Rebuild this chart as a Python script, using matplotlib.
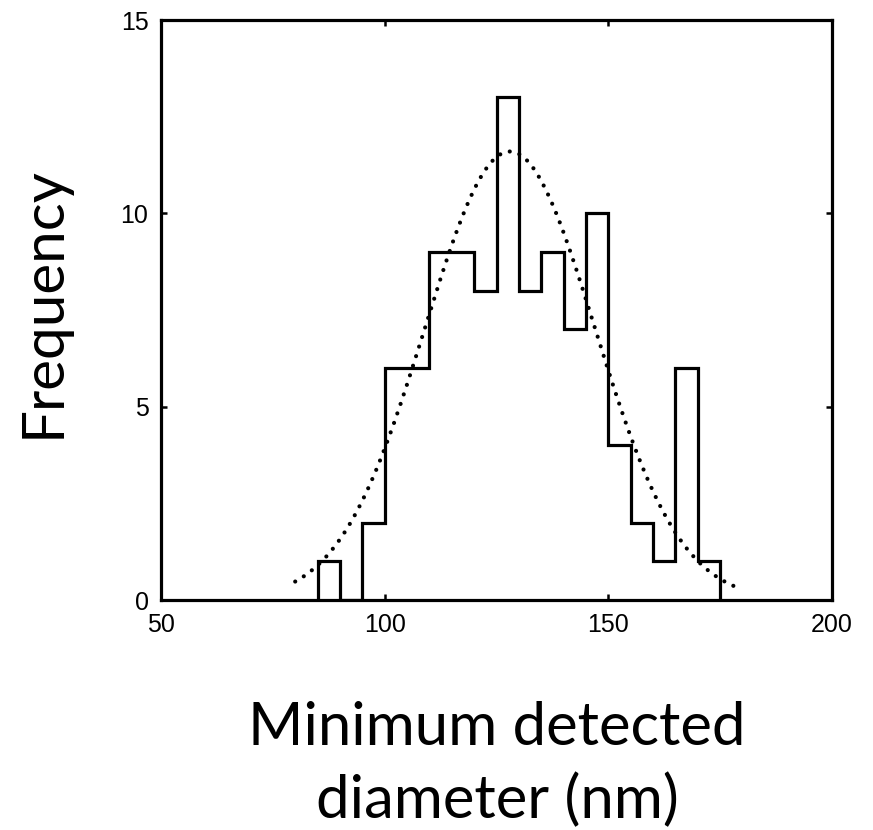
import numpy as np
import matplotlib
matplotlib.use("Agg")
import matplotlib.pyplot as plt

# Histogram data (bin edges in nm, counts)
bin_edges = [85, 90, 95, 100, 105, 110, 115, 120, 125, 130, 135, 140, 145,
             150, 155, 160, 165, 170, 175]
counts = [1, 0, 2, 6, 6, 9, 9, 8, 13, 8, 9, 7, 10, 4, 2, 1, 6, 1]

# Fitted normal curve parameters
fit_mu = 128.0
fit_sigma = 19.0
fit_amp = 11.6
fit_range = (80, 180)

x_ticks = [50, 100, 150, 200]
y_ticks = [0, 5, 10, 15]

fig = plt.figure(figsize=(8.73, 8.30), dpi=100)
ax = fig.add_axes([161/873, 1-600/830, (832-161)/873, (600-20)/830])

ax.stairs(counts, bin_edges, baseline=0, fill=False, color='black', linewidth=2.3)

xf = np.linspace(fit_range[0], fit_range[1], 200)
yf = fit_amp * np.exp(-(xf - fit_mu) ** 2 / (2 * fit_sigma ** 2))
ax.plot(xf, yf, color='black', linewidth=3.0, linestyle=(0, (0.01, 2.4)),
        dash_capstyle='round')

ax.set_xlim(50, 200)
ax.set_ylim(0, 15)
ax.set_xticks(x_ticks)
ax.set_yticks(y_ticks)
for s in ax.spines.values():
    s.set_linewidth(2.3)
ax.tick_params(direction='in', top=True, right=True, length=4, width=1.8,
               labelsize=18, pad=9)
for lab in ax.get_xticklabels() + ax.get_yticklabels():
    lab.set_fontfamily('Liberation Sans')

fig.text(60/873, 1-302/830, 'Frequency', rotation=90, rotation_mode='anchor',
         ha='center', va='baseline', fontsize=42, family='Lato')
fig.text(497/873, 1-745/830, 'Minimum detected', ha='center', va='baseline',
         fontsize=43, family='Lato')
fig.text(497/873, 1-818/830, 'diameter (nm)', ha='center', va='baseline',
         fontsize=43, family='Lato')

fig.savefig('out.png', dpi=100)
